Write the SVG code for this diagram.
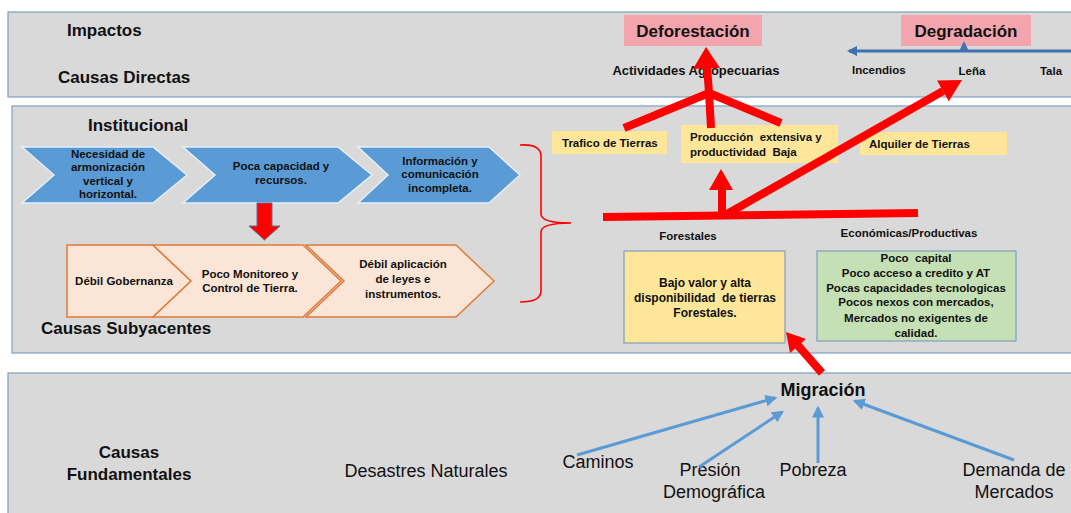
<svg xmlns="http://www.w3.org/2000/svg" width="1071" height="513" viewBox="0 0 1071 513">
<defs>
<style>
text{font-family:"Liberation Sans",Arial,sans-serif;fill:#111;white-space:pre;}
.b{font-weight:bold;}
.h{font-size:17px;font-weight:bold;}
.s{font-size:11.5px;font-weight:bold;}
.c{font-size:11.5px;font-weight:bold;text-anchor:middle;}
.m{text-anchor:middle;}
.r{font-size:18px;}
.panel{fill:#d9d9d9;stroke:#7f9fc2;stroke-width:1.2;}
.chev{fill:#5b9bd5;stroke:#e6eef8;stroke-width:1.5;}
.och{fill:#fbe5d6;stroke:#e07b39;stroke-width:1.5;}
.ybox{fill:#ffe699;}
.pink{fill:#f4a4ac;}
.red{stroke:#ff0000;fill:none;stroke-width:8;}
.redf{fill:#ff0000;}
.blue{stroke:#5b9bd5;stroke-width:3;fill:none;marker-end:url(#ba);}
</style>
<marker id="ba" viewBox="0 0 10 10" refX="8" refY="5" markerWidth="4" markerHeight="4" orient="auto" markerUnits="strokeWidth">
<path d="M0,0 L10,5 L0,10 z" fill="#5b9bd5"/>
</marker>
<marker id="da" viewBox="0 0 10 10" refX="8" refY="5" markerWidth="3.5" markerHeight="3.5" orient="auto" markerUnits="strokeWidth">
<path d="M0,0 L10,5 L0,10 z" fill="#3f72b0"/>
</marker>
</defs>
<rect width="1071" height="513" fill="#ffffff"/>
<g id="panels">
<rect class="panel" x="8" y="12" width="1070" height="85"/>
<rect class="panel" x="12" y="106" width="1066" height="247"/>
<rect class="panel" x="8" y="373" width="1070" height="145"/>
</g>
<g id="labels">
<text class="h" x="67" y="36">Impactos</text>
<text class="h" x="58" y="83">Causas Directas</text>
<text class="h" x="88" y="131">Institucional</text>
<text class="h" x="41" y="334">Causas Subyacentes</text>
<text class="h m" x="129" y="458">Causas</text>
<text class="h m" x="129" y="480">Fundamentales</text>
</g>
<g id="deforestacion">
<rect class="pink" x="624" y="15" width="138" height="31"/>
<text class="h m" x="693" y="37">Deforestación</text>
</g>
<g id="degradacion">
<rect class="pink" x="901" y="15" width="130" height="31"/>
<text class="h m" x="966" y="37">Degradación</text>
</g>
<g id="directas">
<text class="m" x="696" y="75" style="font-size:13px;font-weight:bold">Actividades Agropecuarias</text>
<text class="s" x="852" y="74">Incendios</text>
<text class="s m" x="972" y="75">Leña</text>
<text class="s m" x="1051" y="75">Tala</text>
</g>
<g id="trafico">
<rect class="ybox" x="552" y="131" width="115" height="23"/>
<text class="s" x="562" y="147">Trafico de Tierras</text>
</g>
<g id="produccion">
<rect class="ybox" x="681" y="125" width="157" height="38"/>
<text class="s" x="690" y="141">Producción  extensiva y</text>
<text class="s" x="690" y="156">productividad  Baja</text>
</g>
<g id="alquiler">
<rect class="ybox" x="860" y="132" width="147" height="23"/>
<text class="s" x="869" y="148">Alquiler de Tierras</text>
</g>
<g id="chevron-necesidad">
<polygon class="chev" points="22,147 153,147 187,175 153,203 22,203 54,175"/>
<text class="c" x="108" y="158">Necesidad de</text>
<text class="c" x="108" y="171">armonización</text>
<text class="c" x="108" y="185">vertical y</text>
<text class="c" x="108" y="198">horizontal.</text>
</g>
<g id="chevron-poca">
<polygon class="chev" points="183,147 338,147 372,175 338,203 183,203 215,175"/>
<text class="c" x="281" y="170">Poca capacidad y</text>
<text class="c" x="281" y="184">recursos.</text>
</g>
<g id="chevron-info">
<polygon class="chev" points="358,147 489,147 520,175 489,203 358,203 388,175"/>
<text class="c" x="440" y="165">Información y</text>
<text class="c" x="440" y="178">comunicación</text>
<text class="c" x="440" y="192">incompleta.</text>
</g>
<g id="down-arrow">
<polygon points="257,203 272,203 272,226 280,226 264.5,240 249,226 257,226" fill="#ff0000" stroke="#5a6e8c" stroke-width="1"/>
</g>
<g id="chevron-gobernanza">
<polygon class="och" points="67,245 153,245 191,281 153,317 67,317"/>
<text class="c" x="124" y="285">Débil Gobernanza</text>
</g>
<g id="chevron-monitoreo">
<polygon class="och" points="153,245 303,245 341,281 303,317 153,317 191,281"/>
<text class="c" x="250" y="278">Poco Monitoreo y</text>
<text class="c" x="250" y="292">Control de Tierra.</text>
</g>
<g id="chevron-aplicacion">
<polygon class="och" points="306,245 456,245 494,281 456,317 306,317 344,281"/>
<text class="c" x="403" y="268">Débil aplicación</text>
<text class="c" x="403" y="283">de leyes e</text>
<text class="c" x="403" y="298">instrumentos.</text>
</g>
<g id="forestales">
<text class="s m" x="688" y="240">Forestales</text>
<rect x="624" y="251" width="161" height="92" fill="#ffe699" stroke="#7f9fc2" stroke-width="1.2"/>
<text class="m" x="705" y="287" style="font-size:12px;font-weight:bold">Bajo valor y alta</text>
<text class="m" x="705" y="302" style="font-size:12px;font-weight:bold">disponibilidad  de tierras</text>
<text class="m" x="705" y="317" style="font-size:12px;font-weight:bold">Forestales.</text>
</g>
<g id="economicas">
<text class="s m" x="909" y="237">Económicas/Productivas</text>
<rect x="817" y="251" width="199" height="90" fill="#c5e0b4" stroke="#7f9fc2" stroke-width="1.2"/>
<text class="s m" x="916" y="262">Poco  capital</text>
<text class="s m" x="916" y="277">Poco acceso a credito y AT</text>
<text class="s m" x="916" y="292">Pocas capacidades tecnologicas</text>
<text class="s m" x="916" y="306">Pocos nexos con mercados,</text>
<text class="s m" x="916" y="322">Mercados no exigentes de</text>
<text class="s m" x="916" y="337">calidad.</text>
</g>
<g id="migracion">
<text class="m" x="823" y="396" style="font-size:18px;font-weight:bold">Migración</text>
</g>
<g id="fundamentales">
<text class="r m" x="426" y="477">Desastres Naturales</text>
<text class="r m" x="598" y="468">Caminos</text>
<text class="r m" x="710" y="476">Presión</text>
<text class="r m" x="714" y="498">Demográfica</text>
<text class="r m" x="813" y="476">Pobreza</text>
<text class="r m" x="1014" y="476">Demanda de</text>
<text class="r m" x="1014" y="498">Mercados</text>
</g>
<g id="connectors">
<line x1="1075" y1="51" x2="849" y2="51" stroke="#3f72b0" stroke-width="3" marker-end="url(#da)"/>
<line x1="964" y1="51" x2="964" y2="43" stroke="#3f72b0" stroke-width="2.5" marker-end="url(#da)"/>
<path d="M520,145 Q541,144 541,156 L541,214 Q541,223 571,223 Q541,223 541,232 L541,291 Q541,302 520,302" fill="none" stroke="#ff0000" stroke-width="1.6"/>
<line class="red" x1="709" y1="93" x2="707" y2="66"/>
<polygon class="redf" points="706,47 693,69 720,68"/>
<line class="red" x1="709" y1="93" x2="624" y2="128"/>
<line class="red" x1="709" y1="93" x2="711" y2="128"/>
<line class="red" x1="709" y1="93" x2="781" y2="123"/>
<line class="red" x1="603" y1="217" x2="918" y2="213" stroke-width="7"/>
<line class="red" x1="722" y1="212" x2="722" y2="188" stroke-width="10"/>
<polygon class="redf" points="721,169 709,190 733,190"/>
<line class="red" x1="727" y1="214" x2="943" y2="91"/>
<polygon class="redf" points="962,80 948.8,101.3 937,80.5"/>
<line class="red" x1="822" y1="373" x2="798" y2="345.5" stroke-width="7"/>
<polygon class="redf" points="786,332 806,339 790,353"/>
<line class="blue" x1="577" y1="455" x2="775" y2="398"/>
<line class="blue" x1="699" y1="467" x2="782" y2="412"/>
<line class="blue" x1="818" y1="463" x2="818" y2="408"/>
<line class="blue" x1="1014" y1="460" x2="855" y2="401"/>
</g>
</svg>
